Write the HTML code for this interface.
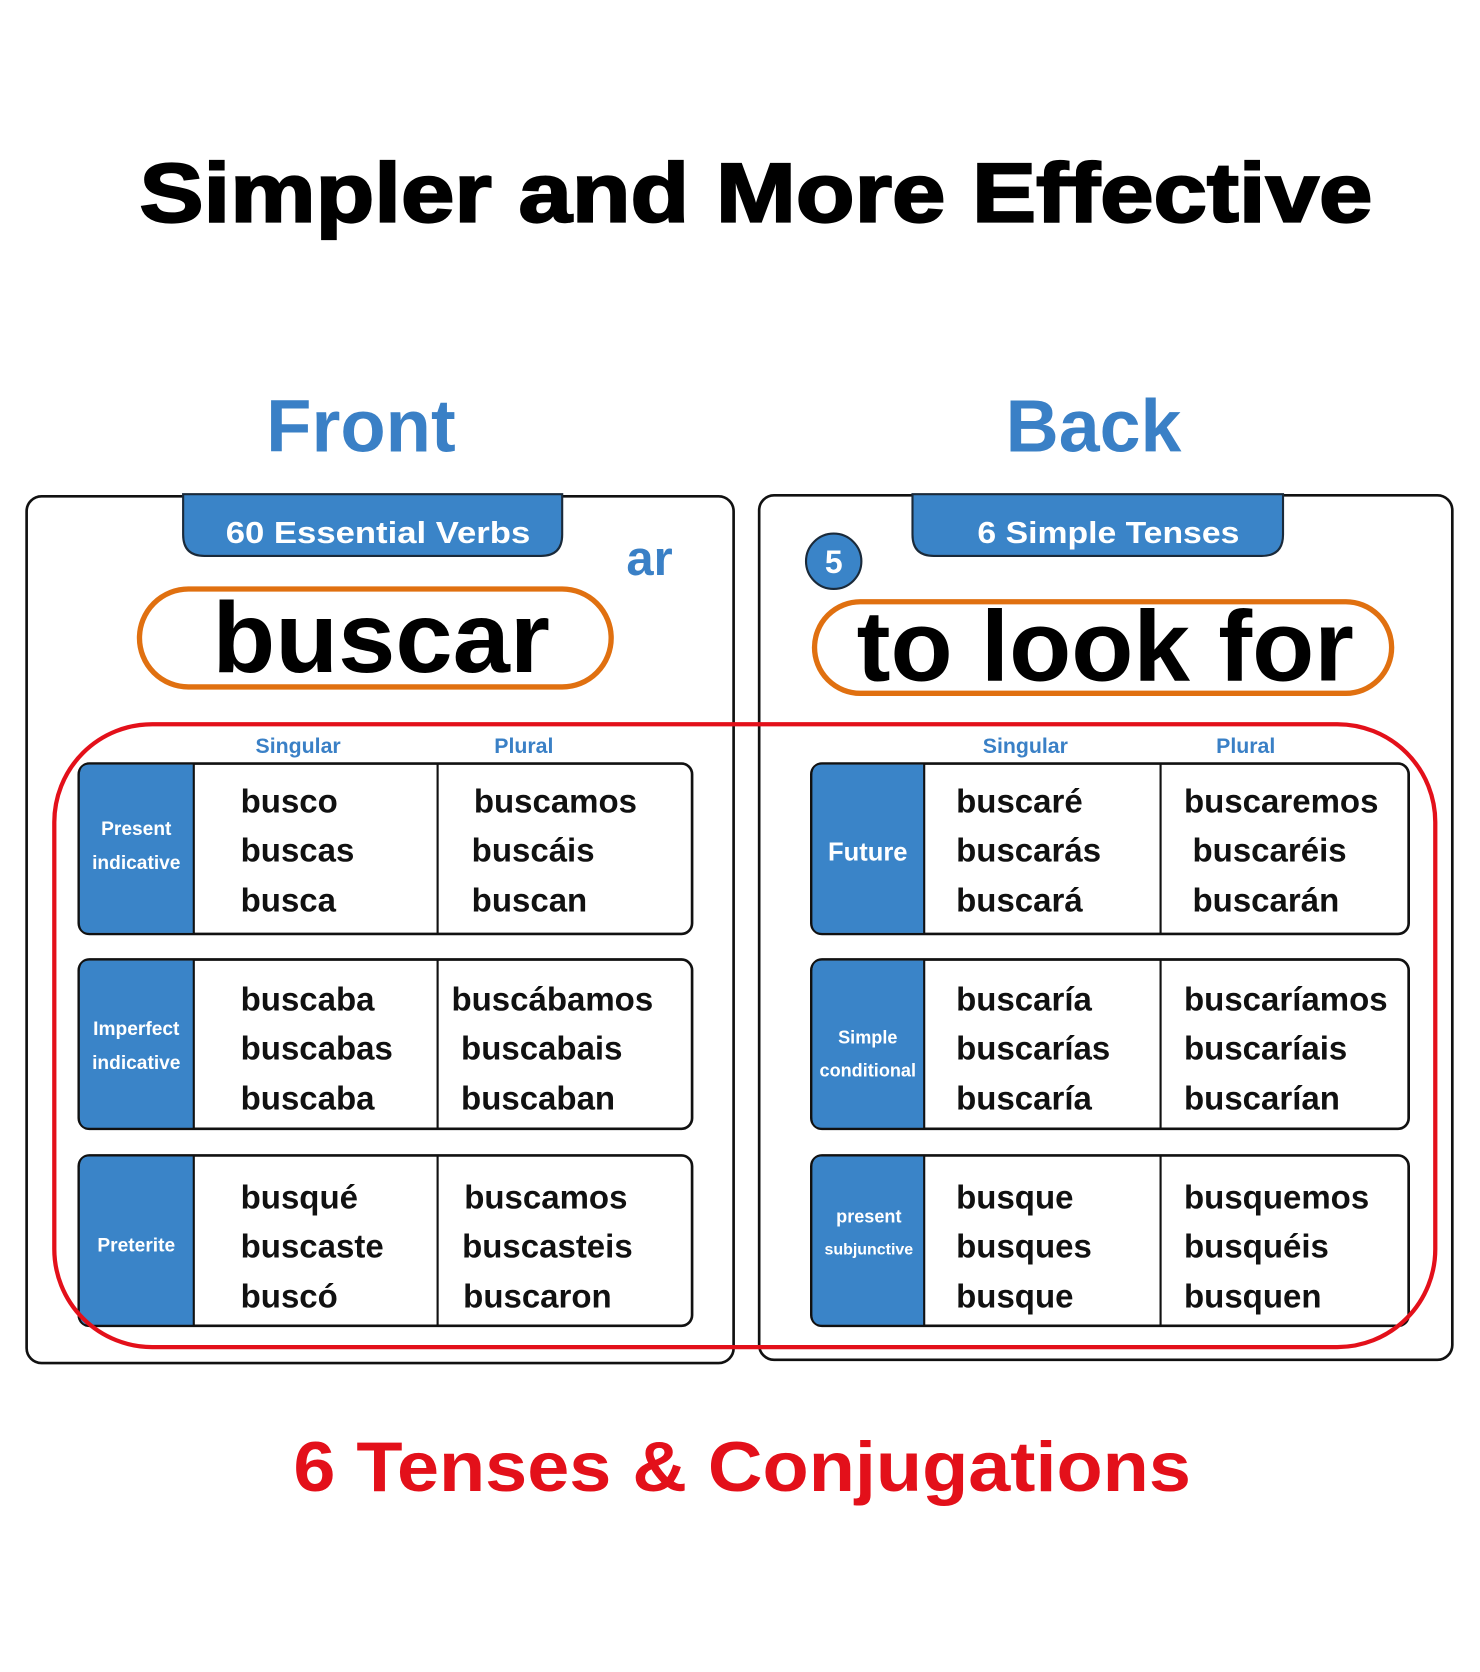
<!DOCTYPE html>
<html><head><meta charset="utf-8"><style>
html,body{margin:0;padding:0;background:#fff;}
svg{display:block;}
text{font-family:"Liberation Sans",Arial,sans-serif;font-weight:bold;}
</style></head><body>
<svg width="1480" height="1672" viewBox="0 0 1390 1570" xmlns="http://www.w3.org/2000/svg">
<rect width="1390" height="1570" fill="#fff"/>
<text x="710" y="208" font-size="78" text-anchor="middle" textLength="1158" lengthAdjust="spacingAndGlyphs" fill="#000" stroke="#000" stroke-width="2">Simpler and More Effective</text>
<text x="339" y="424" font-size="70" text-anchor="middle" textLength="178" lengthAdjust="spacingAndGlyphs" fill="#3a80c6">Front</text>
<text x="1027" y="424" font-size="70" text-anchor="middle" textLength="165" lengthAdjust="spacingAndGlyphs" fill="#3a80c6">Back</text>

<!-- cards -->
<rect x="25" y="466" width="664" height="814" rx="14" fill="#fff" stroke="#111" stroke-width="2.5"/>
<rect x="713" y="465" width="651" height="812" rx="14" fill="#fff" stroke="#111" stroke-width="2.5"/>

<!-- tabs -->
<path d="M172 464 V502 Q172 522 192 522 H508 Q528 522 528 502 V464 Z" fill="#3a84c8" stroke="#1a2a3a" stroke-width="2"/>
<text x="355" y="510" font-size="29" fill="#fff" text-anchor="middle" textLength="286" lengthAdjust="spacingAndGlyphs">60 Essential Verbs</text>
<path d="M857 464 V502 Q857 522 877 522 H1185 Q1205 522 1205 502 V464 Z" fill="#3a84c8" stroke="#1a2a3a" stroke-width="2"/>
<text x="1041" y="510" font-size="29" fill="#fff" text-anchor="middle" textLength="246" lengthAdjust="spacingAndGlyphs">6 Simple Tenses</text>

<text x="610" y="540" font-size="46" fill="#3a80c6" text-anchor="middle">ar</text>
<circle cx="783" cy="527" r="26" fill="#3a84c8" stroke="#1a2a3a" stroke-width="2"/>
<text x="783" y="538" font-size="30" fill="#fff" text-anchor="middle">5</text>

<!-- pills -->
<rect x="131" y="553" width="443" height="92" rx="46" fill="#fff" stroke="#e07010" stroke-width="5"/>
<text x="358" y="631" font-size="94" text-anchor="middle" textLength="317" lengthAdjust="spacingAndGlyphs" fill="#000">buscar</text>
<rect x="765" y="565" width="542" height="86" rx="43" fill="#fff" stroke="#e07010" stroke-width="5"/>
<text x="1038" y="639" font-size="94" text-anchor="middle" textLength="467" lengthAdjust="spacingAndGlyphs" fill="#000">to look for</text>

<!-- column headers -->
<g font-size="20" fill="#3a80c6" text-anchor="middle">
<text x="280" y="707">Singular</text><text x="492" y="707">Plural</text>
<text x="963" y="707">Singular</text><text x="1170" y="707">Plural</text>
</g>

<!-- left tables -->
<g stroke="#111" stroke-width="2.5">
<rect x="74" y="717" width="576" height="160" rx="10" fill="#fff"/>
<rect x="74" y="901" width="576" height="159" rx="10" fill="#fff"/>
<rect x="74" y="1085" width="576" height="160" rx="10" fill="#fff"/>
<rect x="762" y="717" width="561" height="160" rx="10" fill="#fff"/>
<rect x="762" y="901" width="561" height="159" rx="10" fill="#fff"/>
<rect x="762" y="1085" width="561" height="160" rx="10" fill="#fff"/>
</g>
<g fill="#3a84c8">
<path d="M84 718 H182 V876 H84 Q75 876 75 866 V728 Q75 718 84 718Z"/>
<path d="M84 902 H182 V1059 H84 Q75 1059 75 1049 V912 Q75 902 84 902Z"/>
<path d="M84 1086 H182 V1244 H84 Q75 1244 75 1234 V1096 Q75 1086 84 1086Z"/>
<path d="M772 718 H868 V876 H772 Q763 876 763 866 V728 Q763 718 772 718Z"/>
<path d="M772 902 H868 V1059 H772 Q763 1059 763 1049 V912 Q763 902 772 902Z"/>
<path d="M772 1086 H868 V1244 H772 Q763 1244 763 1234 V1096 Q763 1086 772 1086Z"/>
</g>
<g stroke="#111" stroke-width="2">
<line x1="182" y1="717" x2="182" y2="877"/><line x1="411" y1="717" x2="411" y2="877"/>
<line x1="182" y1="901" x2="182" y2="1060"/><line x1="411" y1="901" x2="411" y2="1060"/>
<line x1="182" y1="1085" x2="182" y2="1245"/><line x1="411" y1="1085" x2="411" y2="1245"/>
<line x1="868" y1="717" x2="868" y2="877"/><line x1="1090" y1="717" x2="1090" y2="877"/>
<line x1="868" y1="901" x2="868" y2="1060"/><line x1="1090" y1="901" x2="1090" y2="1060"/>
<line x1="868" y1="1085" x2="868" y2="1245"/><line x1="1090" y1="1085" x2="1090" y2="1245"/>
</g>

<!-- labels -->
<g fill="#fff" text-anchor="middle" font-size="18">
<text x="128" y="784">Present</text><text x="128" y="816">indicative</text>
<text x="128" y="972">Imperfect</text><text x="128" y="1004">indicative</text>
<text x="128" y="1175">Preterite</text>
<text x="815" y="808" font-size="24">Future</text>
<text x="815" y="980" font-size="17">Simple</text><text x="815" y="1011" font-size="17">conditional</text>
<text x="816" y="1148" font-size="17">present</text><text x="816" y="1178" font-size="15">subjunctive</text>
</g>

<!-- conjugations -->
<g font-size="31" fill="#111">
<text x="226" y="763">busco</text><text x="226" y="809">buscas</text><text x="226" y="856">busca</text>
<text x="445" y="763">buscamos</text><text x="443" y="809">buscáis</text><text x="443" y="856">buscan</text>
<text x="226" y="949">buscaba</text><text x="226" y="995">buscabas</text><text x="226" y="1042">buscaba</text>
<text x="424" y="949">buscábamos</text><text x="433" y="995">buscabais</text><text x="433" y="1042">buscaban</text>
<text x="226" y="1135">busqué</text><text x="226" y="1181">buscaste</text><text x="226" y="1228">buscó</text>
<text x="436" y="1135">buscamos</text><text x="434" y="1181">buscasteis</text><text x="435" y="1228">buscaron</text>
<text x="898" y="763">buscaré</text><text x="898" y="809">buscarás</text><text x="898" y="856">buscará</text>
<text x="1112" y="763">buscaremos</text><text x="1120" y="809">buscaréis</text><text x="1120" y="856">buscarán</text>
<text x="898" y="949">buscaría</text><text x="898" y="995">buscarías</text><text x="898" y="1042">buscaría</text>
<text x="1112" y="949">buscaríamos</text><text x="1112" y="995">buscaríais</text><text x="1112" y="1042">buscarían</text>
<text x="898" y="1135">busque</text><text x="898" y="1181">busques</text><text x="898" y="1228">busque</text>
<text x="1112" y="1135">busquemos</text><text x="1112" y="1181">busquéis</text><text x="1112" y="1228">busquen</text>
</g>

<!-- red outline -->
<rect x="51" y="680" width="1297" height="585" rx="92" fill="none" stroke="#e3101a" stroke-width="4"/>

<text x="697" y="1400" font-size="66" fill="#e3101a" text-anchor="middle" textLength="843" lengthAdjust="spacingAndGlyphs">6 Tenses &amp; Conjugations</text>
</svg>
</body></html>
